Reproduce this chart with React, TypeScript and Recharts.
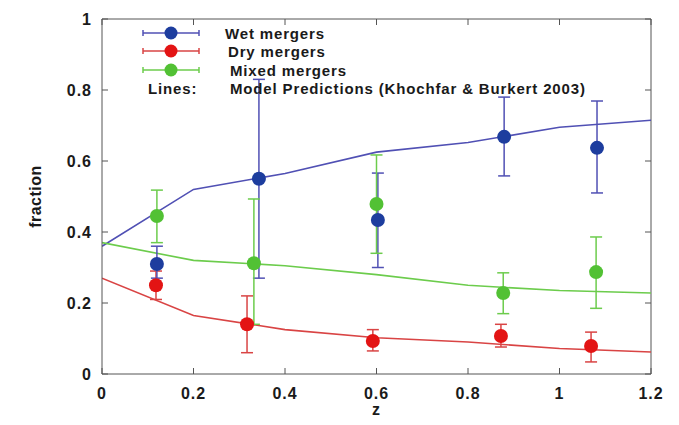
import React from "react"
import {
  ComposedChart,
  Line,
  Scatter,
  ErrorBar,
  XAxis,
  YAxis,
  ReferenceLine,
} from "recharts"

// model predictions (Khochfar & Burkert 2003)
const modelZ = [0, 0.2, 0.4, 0.6, 0.8, 1.0, 1.2]
const modelWet = [0.36, 0.52, 0.565, 0.625, 0.652, 0.695, 0.715]
const modelDry = [0.27, 0.165, 0.125, 0.102, 0.09, 0.072, 0.062]
const modelMixed = [0.37, 0.32, 0.305, 0.28, 0.25, 0.235, 0.228]

// observed fractions with error bars [low, high]
const wetZ = [0.12, 0.343, 0.603, 0.879, 1.082]
const wetF = [0.31, 0.55, 0.434, 0.668, 0.637]
const wetLo = [0.27, 0.27, 0.3, 0.558, 0.51]
const wetHi = [0.36, 0.83, 0.566, 0.78, 0.769]

const dryZ = [0.118, 0.317, 0.592, 0.872, 1.069]
const dryF = [0.25, 0.14, 0.093, 0.107, 0.079]
const dryLo = [0.21, 0.06, 0.065, 0.076, 0.034]
const dryHi = [0.29, 0.22, 0.125, 0.14, 0.118]

const mixZ = [0.12, 0.332, 0.6, 0.877, 1.08]
const mixF = [0.445, 0.312, 0.479, 0.228, 0.287]
const mixLo = [0.37, 0.14, 0.34, 0.17, 0.185]
const mixHi = [0.518, 0.493, 0.617, 0.285, 0.386]

const xTicks = [0, 0.2, 0.4, 0.6, 0.8, 1, 1.2]
const yTicks = [0, 0.2, 0.4, 0.6, 0.8, 1]

const W = 679
const H = 425
const M = { top: 19, right: 28, left: 0, bottom: 0 }
const X_AXIS_H = 51
const Y_AXIS_W = 102
const PLOT_TOP = M.top
const PLOT_BOTTOM = H - M.bottom - X_AXIS_H
const PLOT_RIGHT = W - M.right
const TICK_MARGIN = 4
const FRAME = "#555"
const FONT = "'Liberation Sans', Arial, sans-serif"
const INK = "#1a1a1a"

const BLUE = { pt: "#1d3d9e", ln: "#5050b4" }
const RED = { pt: "#e31414", ln: "#d94444" }
const GREEN = { pt: "#52c134", ln: "#6ccc4c" }

const toLine = (vals: number[]) => modelZ.map((z, i) => ({ z, f: vals[i] }))
const toPts = (zs: number[], fs: number[], lo: number[], hi: number[]) =>
  zs.map((z, i) => ({ z, f: fs[i], err: [fs[i] - lo[i], hi[i] - fs[i]] }))

const tickText = {
  fontSize: 16,
  fontWeight: "bold" as const,
  fontFamily: FONT,
  letterSpacing: 1,
  fill: INK,
}

const XTick = (props: any) => {
  const { x, y, payload } = props
  const axisY = y - TICK_MARGIN
  return (
    <g>
      <line x1={x} x2={x} y1={axisY} y2={axisY - 6} stroke={FRAME} />
      <line x1={x} x2={x} y1={PLOT_TOP} y2={PLOT_TOP + 6} stroke={FRAME} />
      <text x={x} y={axisY + 19} textAnchor="middle" dominantBaseline="central" {...tickText}>
        {String(payload.value)}
      </text>
    </g>
  )
}

const YTick = (props: any) => {
  const { x, y, payload } = props
  const axisX = x + TICK_MARGIN
  return (
    <g>
      <line x1={axisX} x2={axisX + 6} y1={y} y2={y} stroke={FRAME} />
      <line x1={PLOT_RIGHT} x2={PLOT_RIGHT - 6} y1={y} y2={y} stroke={FRAME} />
      <text x={axisX - 10} y={y} textAnchor="end" dominantBaseline="central" {...tickText}>
        {String(payload.value)}
      </text>
    </g>
  )
}

const dot = (color: string) => (props: any) =>
  <circle cx={props.cx} cy={props.cy} r={7} fill={color} />

function LegendSymbol({ y, c }: { y: number; c: { pt: string; ln: string } }) {
  return (
    <g>
      <line x1={143} x2={199} y1={y} y2={y} stroke={c.ln} strokeWidth={1.5} />
      <line x1={143} x2={143} y1={y - 3} y2={y + 3} stroke={c.ln} strokeWidth={1.5} />
      <line x1={199} x2={199} y1={y - 3} y2={y + 3} stroke={c.ln} strokeWidth={1.5} />
      <circle cx={171} cy={y} r={6.5} fill={c.pt} />
    </g>
  )
}

function LegendOverlay() {
  const txt = {
    fontSize: 15,
    fontWeight: "bold" as const,
    fontFamily: FONT,
    letterSpacing: 0.85,
    fill: INK,
  }
  return (
    <svg
      width={W}
      height={110}
      style={{ position: "absolute", left: 0, top: 0, pointerEvents: "none" }}
    >
      <LegendSymbol y={33} c={BLUE} />
      <LegendSymbol y={51} c={RED} />
      <LegendSymbol y={70} c={GREEN} />
      <text x={225} y={33} dominantBaseline="central" {...txt}>Wet mergers</text>
      <text x={228} y={51} dominantBaseline="central" {...txt}>Dry mergers</text>
      <text x={230} y={70} dominantBaseline="central" {...txt}>Mixed mergers</text>
      <text x={148} y={88} dominantBaseline="central" {...txt}>Lines:</text>
      <text x={230} y={88} dominantBaseline="central" {...txt}>
        Model Predictions (Khochfar &amp; Burkert 2003)
      </text>
    </svg>
  )
}

export default function App() {
  const midY = (PLOT_TOP + PLOT_BOTTOM) / 2
  return (
    <div style={{ position: "relative", width: W, height: H, margin: -8, background: "#fff" }}>
      <ComposedChart width={W} height={H} margin={M}>
        <XAxis
          dataKey="z"
          type="number"
          domain={[0, 1.2]}
          ticks={xTicks}
          height={X_AXIS_H}
          tickSize={0}
          tickMargin={TICK_MARGIN}
          tickLine={false}
          axisLine={{ stroke: FRAME }}
          tick={<XTick />}
          allowDataOverflow
          label={(p: any) => {
            const vb = p.viewBox
            return (
              <text
                x={vb.x + vb.width / 2}
                y={PLOT_BOTTOM + 41}
                textAnchor="middle"
                {...tickText}
              >
                z
              </text>
            )
          }}
        />
        <YAxis
          dataKey="f"
          type="number"
          domain={[0, 1]}
          ticks={yTicks}
          width={Y_AXIS_W}
          tickSize={0}
          tickMargin={TICK_MARGIN}
          tickLine={false}
          axisLine={{ stroke: FRAME }}
          tick={<YTick />}
          allowDataOverflow
          label={() => (
            <text
              x={35}
              y={midY}
              textAnchor="middle"
              dominantBaseline="central"
              {...tickText}
              letterSpacing={0.5}
              transform={`rotate(-90 35 ${midY})`}
            >
              fraction
            </text>
          )}
        />
        <ReferenceLine y={1} stroke={FRAME} />
        <ReferenceLine x={1.2} stroke={FRAME} />

        <Line data={toLine(modelWet)} dataKey="f" stroke={BLUE.ln} strokeWidth={1.6} dot={false} isAnimationActive={false} />
        <Line data={toLine(modelDry)} dataKey="f" stroke={RED.ln} strokeWidth={1.6} dot={false} isAnimationActive={false} />
        <Line data={toLine(modelMixed)} dataKey="f" stroke={GREEN.ln} strokeWidth={1.6} dot={false} isAnimationActive={false} />

        <Scatter data={toPts(dryZ, dryF, dryLo, dryHi)} dataKey="f" shape={dot(RED.pt)} isAnimationActive={false}>
          <ErrorBar dataKey="err" direction="y" width={6} stroke={RED.ln} strokeWidth={1.5} />
        </Scatter>
        <Scatter data={toPts(wetZ, wetF, wetLo, wetHi)} dataKey="f" shape={dot(BLUE.pt)} isAnimationActive={false}>
          <ErrorBar dataKey="err" direction="y" width={6} stroke={BLUE.ln} strokeWidth={1.5} />
        </Scatter>
        <Scatter data={toPts(mixZ, mixF, mixLo, mixHi)} dataKey="f" shape={dot(GREEN.pt)} isAnimationActive={false}>
          <ErrorBar dataKey="err" direction="y" width={6} stroke={GREEN.ln} strokeWidth={1.5} />
        </Scatter>
      </ComposedChart>
      <LegendOverlay />
    </div>
  )
}
